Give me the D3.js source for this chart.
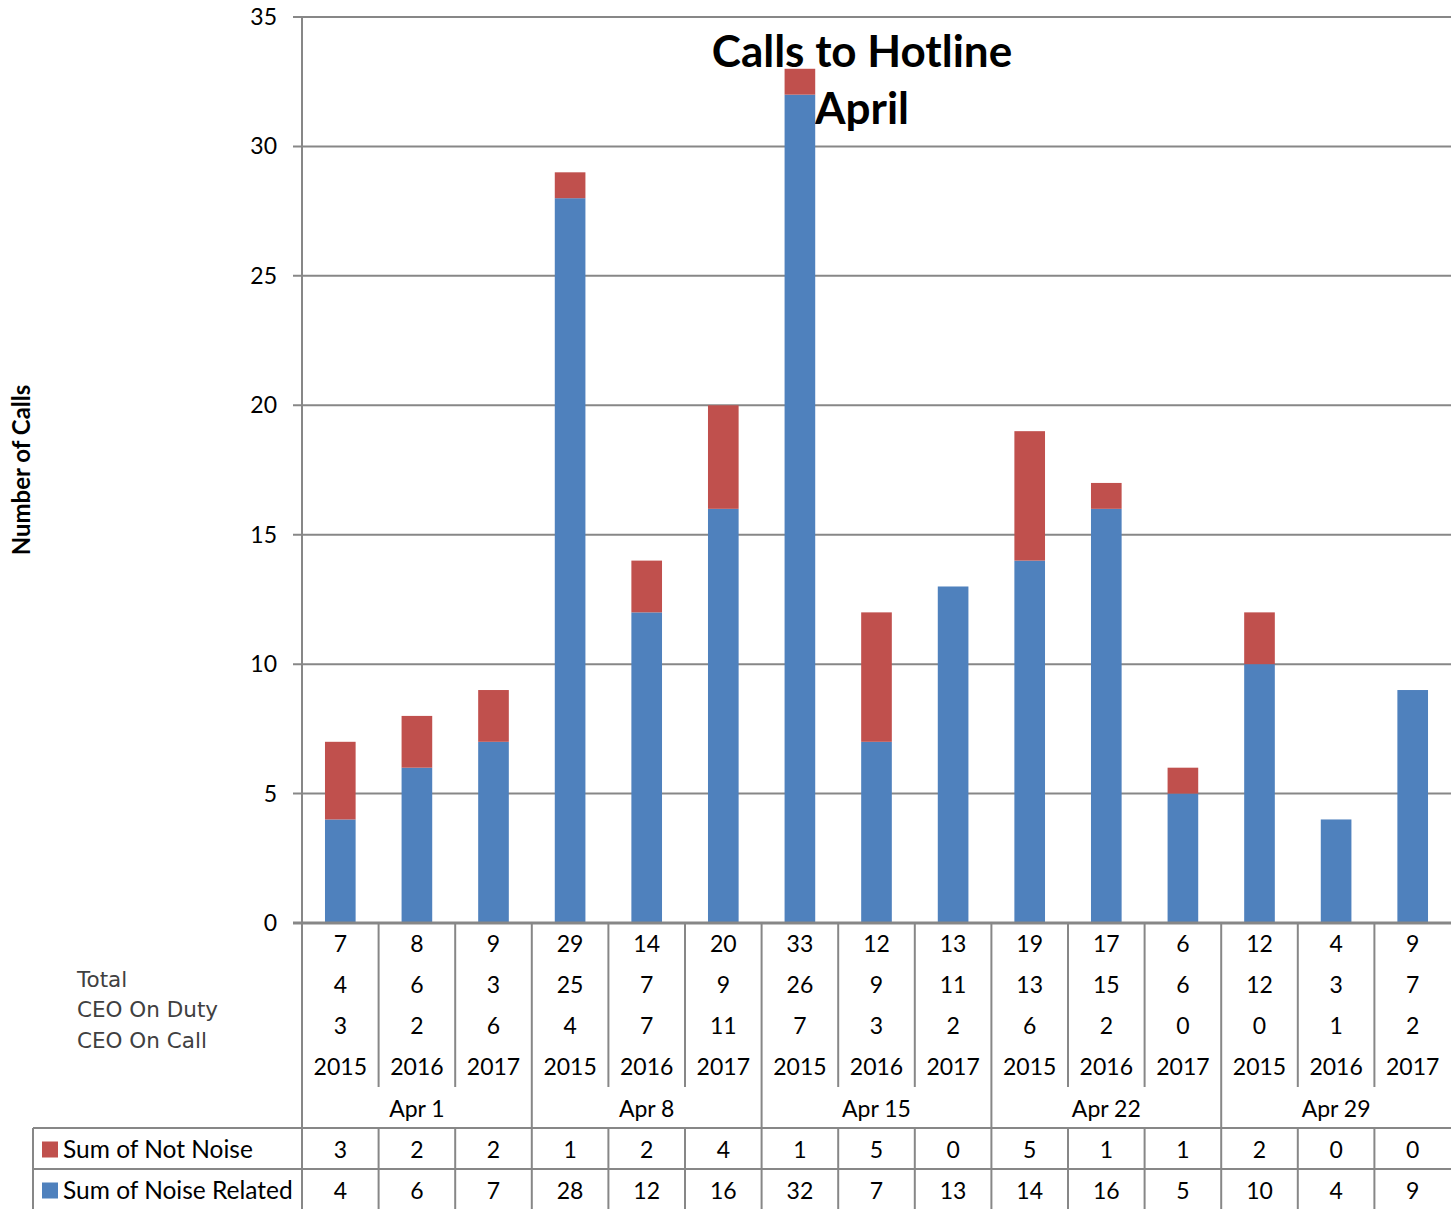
<!DOCTYPE html>
<html>
<head>
<meta charset="utf-8">
<script src="https://cdn.jsdelivr.net/npm/d3@7"></script>
<style>
  body { margin: 0; background: #fff; }
  text { font-family: Lato, "Open Sans", sans-serif; }
</style>
</head>
<body>
<div id="chart"></div>
<script>
// chart data
var weeks = ["Apr 1", "Apr 8", "Apr 15", "Apr 22", "Apr 29"];
var years = ["2015", "2016", "2017"];
var noiseRelated = [4, 6, 7, 28, 12, 16, 32, 7, 13, 14, 16, 5, 10, 4, 9];
var notNoise     = [3, 2, 2, 1, 2, 4, 1, 5, 0, 5, 1, 1, 2, 0, 0];
var totals       = [7, 8, 9, 29, 14, 20, 33, 12, 13, 19, 17, 6, 12, 4, 9];
var ceoOnDuty    = [4, 6, 3, 25, 7, 9, 26, 9, 11, 13, 15, 6, 12, 3, 7];
var ceoOnCall    = [3, 2, 6, 4, 7, 11, 7, 3, 2, 6, 2, 0, 0, 1, 2];
var yTicks = [0, 5, 10, 15, 20, 25, 30, 35];
var rowLabels = ["Total", "CEO On Duty", "CEO On Call"];
var seriesNames = ["Sum of Not Noise", "Sum of Noise Related"];

// set the dimensions and margins of the graph
var W = 1451, H = 1209;
var margin = {top: 17, left: 302},
    width = 1149,
    height = 906;
var rowH = 41;
var gridColor = "#878787";
var blue = "#4F81BD", red = "#C0504D";

// build the rows, one per category
var data = [];
weeks.forEach(function(w, gi) {
  years.forEach(function(yr, yi) {
    var i = gi * 3 + yi;
    data.push({
      key: w + " " + yr, week: w, year: yr,
      noise: noiseRelated[i], notNoise: notNoise[i],
      total: totals[i], duty: ceoOnDuty[i], call: ceoOnCall[i]
    });
  });
});

// set the ranges
var x = d3.scaleBand()
    .domain(data.map(function(d) { return d.key; }))
    .range([margin.left, margin.left + width])
    .paddingInner(0.6)
    .paddingOuter(0.3);
var y = d3.scaleLinear().domain([0, 35]).range([margin.top + height, margin.top]);

var svg = d3.select("#chart").append("svg")
    .attr("width", W)
    .attr("height", H);

// gridlines and y labels
svg.append("g").selectAll("line")
    .data(yTicks)
  .enter().append("line")
    .attr("x1", margin.left - 9)
    .attr("x2", W)
    .attr("y1", function(d) { return y(d); })
    .attr("y2", function(d) { return y(d); })
    .style("stroke", gridColor)
    .style("stroke-width", 2);

svg.append("g").selectAll("text")
    .data(yTicks)
  .enter().append("text")
    .attr("x", 277)
    .attr("y", function(d) { return y(d); })
    .attr("dy", "0.35em")
    .style("text-anchor", "end")
    .style("font-size", "23px")
    .text(function(d) { return d; });

// title (bars sit on top of it)
var title = svg.append("text")
    .attr("x", 862)
    .attr("y", 67)
    .style("text-anchor", "middle")
    .style("font-size", "44px")
    .style("font-weight", "bold");
title.append("tspan").attr("x", 862).text("Calls to Hotline");
title.append("tspan").attr("x", 862).attr("dy", 57).text("April");

// axis title
svg.append("text")
    .attr("transform", "translate(30,470) rotate(-90)")
    .style("text-anchor", "middle")
    .style("font-size", "24px")
    .style("font-weight", "bold")
    .text("Number of Calls");

// stacked bars
var stack = d3.stack().keys(["noise", "notNoise"]);
var layers = stack(data);
var colors = {noise: blue, notNoise: red};

svg.append("g").selectAll("g")
    .data(layers)
  .enter().append("g")
    .style("fill", function(d) { return colors[d.key]; })
  .selectAll("rect")
    .data(function(d) { return d; })
  .enter().append("rect")
    .attr("x", function(d) { return x(d.data.key); })
    .attr("width", x.bandwidth())
    .attr("y", function(d) { return y(d[1]); })
    .attr("height", function(d) { return y(d[0]) - y(d[1]); });

// table below the plot
var base = margin.top + height; // 923
var step = x.step();
var left0 = margin.left;
function colLeft(i) { return left0 + i * step; }
function colMid(d) { return x(d.key) + x.bandwidth() / 2; }

var table = svg.append("g");

// horizontal lines
table.append("line")
    .attr("x1", margin.left - 9).attr("x2", W)
    .attr("y1", base).attr("y2", base)
    .style("stroke", gridColor).style("stroke-width", 3);
[base + 5 * rowH, base + 6 * rowH].forEach(function(yy) {
  table.append("line")
      .attr("x1", 33).attr("x2", W)
      .attr("y1", yy).attr("y2", yy)
      .style("stroke", gridColor).style("stroke-width", 2);
});

// left borders
table.append("line")
    .attr("x1", margin.left).attr("x2", margin.left)
    .attr("y1", margin.top).attr("y2", H)
    .style("stroke", gridColor).style("stroke-width", 2);
table.append("line")
    .attr("x1", 33).attr("x2", 33)
    .attr("y1", base + 5 * rowH).attr("y2", H)
    .style("stroke", gridColor).style("stroke-width", 2);

// vertical separators between categories
d3.range(1, data.length).forEach(function(i) {
  var xx = colLeft(i);
  if (i % 3 === 0) {
    table.append("line")
        .attr("x1", xx).attr("x2", xx)
        .attr("y1", base).attr("y2", H)
        .style("stroke", gridColor).style("stroke-width", 2);
  } else {
    table.append("line")
        .attr("x1", xx).attr("x2", xx)
        .attr("y1", base).attr("y2", base + 4 * rowH)
        .style("stroke", gridColor).style("stroke-width", 2);
    table.append("line")
        .attr("x1", xx).attr("x2", xx)
        .attr("y1", base + 5 * rowH).attr("y2", H)
        .style("stroke", gridColor).style("stroke-width", 2);
  }
});

// category label rows
var rowFields = ["total", "duty", "call", "year"];
rowFields.forEach(function(f, r) {
  table.append("g").selectAll("text")
      .data(data)
    .enter().append("text")
      .attr("x", colMid)
      .attr("y", base + r * rowH + rowH / 2)
      .attr("dy", "0.35em")
      .style("text-anchor", "middle")
      .style("font-size", "23px")
      .text(function(d) { return d[f]; });
});

// week group labels
table.append("g").selectAll("text")
    .data(weeks)
  .enter().append("text")
    .attr("x", function(d, i) { return colLeft(i * 3) + step * 1.5; })
    .attr("y", base + 4 * rowH + rowH / 2 + 1)
    .attr("dy", "0.35em")
    .style("text-anchor", "middle")
    .style("font-size", "23px")
    .text(function(d) { return d; });

// row titles for the multi-level labels
table.append("g").selectAll("text")
    .data(rowLabels)
  .enter().append("text")
    .attr("x", 77)
    .attr("y", function(d, i) { return 979 + i * 30.5; })
    .attr("dy", "0.35em")
    .style("font-family", "'DejaVu Sans', sans-serif")
    .style("font-size", "21.5px")
    .style("fill", "#404040")
    .text(function(d) { return d; });

// data table rows
var tableRows = [
  {name: seriesNames[0], color: red, field: "notNoise"},
  {name: seriesNames[1], color: blue, field: "noise"}
];
tableRows.forEach(function(row, r) {
  var cy = base + (5 + r) * rowH + rowH / 2 + 1;
  table.append("rect")
      .attr("x", 42).attr("y", cy - 8)
      .attr("width", 16).attr("height", 16)
      .style("fill", row.color);
  table.append("text")
      .attr("x", 63).attr("y", cy)
      .attr("dy", "0.35em")
      .style("font-size", "24.5px")
      .text(row.name);
  table.append("g").selectAll("text")
      .data(data)
    .enter().append("text")
      .attr("x", colMid)
      .attr("y", cy)
      .attr("dy", "0.35em")
      .style("text-anchor", "middle")
      .style("font-size", "23px")
      .text(function(d) { return d[row.field]; });
});
</script>
</body>
</html>
